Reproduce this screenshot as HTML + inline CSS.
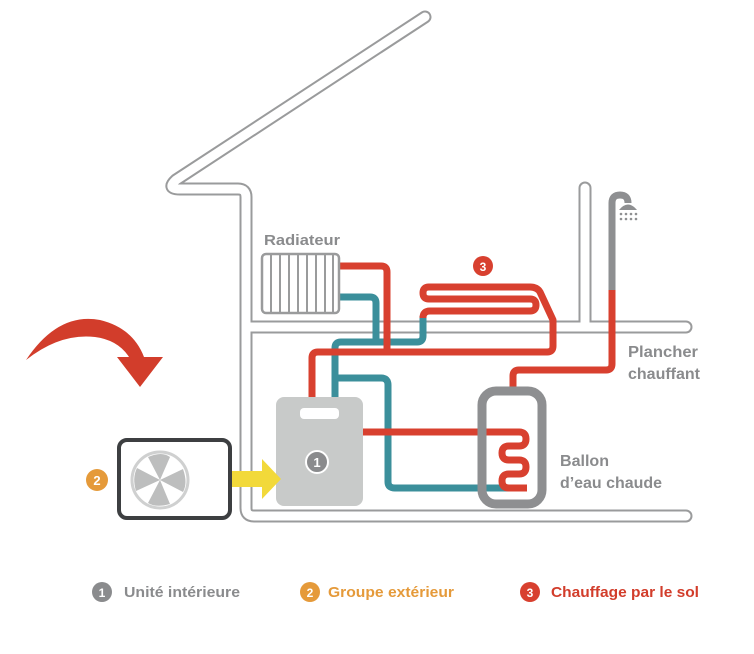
<!DOCTYPE html>
<html><head><meta charset="utf-8"><style>
html,body{margin:0;padding:0;background:#fff;}
svg{display:block;}
text{font-family:"Liberation Sans",sans-serif;font-weight:700;}
</style></head><body>
<svg width="754" height="654" viewBox="0 0 754 654" xmlns="http://www.w3.org/2000/svg">
<rect width="754" height="654" fill="#fff"/>
<g fill="none" stroke-linecap="round" stroke-linejoin="round">
<g stroke="#9a9b9c" stroke-width="13">
<path d="M425,17 L176,180 Q166,189 180,189 L238,189 Q246,189 246,197 L246,508 Q246,516 254,516 L686,516"/>
<path d="M246,327 L686,327"/>
<path d="M585,188 L585,327"/>
</g>
<g stroke="#fff" stroke-width="9">
<path d="M425,17 L176,180 Q166,189 180,189 L238,189 Q246,189 246,197 L246,508 Q246,516 254,516 L686,516"/>
<path d="M246,327 L686,327"/>
<path d="M585,188 L585,327"/>
</g>
</g>
<path d="M612,290 L612,203 Q612,195 620,195 Q628,195 628,203" fill="none" stroke="#8e8f91" stroke-width="7"/>
<path d="M619,210 Q628,199 637,210 Z" fill="#8e8f91"/>
<g fill="#8e8f91"><circle cx="621" cy="214" r="1.3"/><circle cx="626" cy="214" r="1.3"/><circle cx="631" cy="214" r="1.3"/><circle cx="636" cy="214" r="1.3"/><circle cx="621" cy="219" r="1.3"/><circle cx="626" cy="219" r="1.3"/><circle cx="631" cy="219" r="1.3"/><circle cx="636" cy="219" r="1.3"/></g>
<g fill="none" stroke-width="7" stroke-linejoin="round">
<path d="M340,297 L370,297 Q376,297 376,303 L376,342" stroke="#3b8f9b"/>
<path d="M335,397 L335,348 Q335,342 341,342 L417,342 Q423,342 423,336 L423,316" stroke="#3b8f9b"/>
<path d="M335,378 L381,378 Q388,378 388,385 L388,482 Q388,488 395,488 L512,488" stroke="#3b8f9b"/>
<path d="M340,266 L381,266 Q387,266 387,272 L387,352" stroke="#d8402f"/>
<path d="M312,397 L312,358 Q312,352 318,352 L547,352 Q553,352 553,346 L553,320 L540,292 Q537,287 530,287 L429,287 Q423,287 423,293 Q423,299 429,299 L530,299 Q536,299 536,305 Q536,311 530,311 L430,311 Q423,311 423,318" stroke="#d8402f"/>
<path d="M363,432 L519,432 Q526,432 526,439 Q526,446 519,446 L509,446 Q502,446 502,453 Q502,460 509,460 L519,460 Q526,460 526,467 Q526,474 519,474 L509,474 Q502,474 502,481 Q502,488 509,488 L527,488" stroke="#d8402f"/>
<path d="M513,387 L513,376 Q513,370 519,370 L606,370 Q612,370 612,364 L612,290" stroke="#d8402f"/>
</g>
<rect x="482" y="391" width="60" height="113" rx="14" fill="none" stroke="#8e8f91" stroke-width="9"/>
<rect x="262" y="254" width="77" height="59" rx="4" fill="#fff" stroke="#9a9b9c" stroke-width="2.5"/>
<g stroke="#9a9b9c" stroke-width="2"><path d="M271,255V312M280,255V312M289,255V312M298,255V312M307,255V312M316,255V312M325,255V312M333,255V312"/></g>
<text x="264" y="245" font-size="15" fill="#8a8b8d" textLength="76" lengthAdjust="spacingAndGlyphs">Radiateur</text>
<rect x="276" y="397" width="87" height="109" rx="8" fill="#c8cac9"/>
<rect x="300" y="408" width="39" height="11" rx="4" fill="#fff"/>
<circle cx="317" cy="462" r="11" fill="#8a8b8d" stroke="#fff" stroke-width="2"/>
<text x="317" y="467" font-size="13" fill="#fff" text-anchor="middle">1</text>
<path d="M213,471 L262,471 L262,459 L281,479 L262,499 L262,487 L213,487 Z" fill="#f2d93a"/>
<rect x="119" y="440" width="111" height="78" rx="8" fill="#fff" stroke="#3d3f41" stroke-width="4"/>
<circle cx="160" cy="480" r="28" fill="none" stroke="#cfd0d0" stroke-width="3"/>
<g fill="#bdbebe">
<path d="M160,480 L148,457 Q162,451 170,457 Z"/>
<path d="M160,480 L183,469 Q188,483 183,492 Z"/>
<path d="M160,480 L170,504 Q156,508 148,503 Z"/>
<path d="M160,480 L136,491 Q132,478 137,468 Z"/>
</g>
<circle cx="97" cy="480" r="11" fill="#e59a3a"/>
<text x="97" y="485" font-size="13" fill="#fff" text-anchor="middle">2</text>
<path d="M26,360 Q58,312 100,320 Q133,328 144,357 L163,357 L140,387 L117,357 L129,357 Q118,340 95,337 Q60,333 26,360 Z" fill="#d23d2b"/>
<circle cx="483" cy="266" r="10" fill="#d8402f"/>
<text x="483" y="271" font-size="12" fill="#fff" text-anchor="middle">3</text>
<text x="628" y="357" font-size="16" fill="#8a8b8d" textLength="70" lengthAdjust="spacingAndGlyphs">Plancher</text>
<text x="628" y="379" font-size="16" fill="#8a8b8d" textLength="72" lengthAdjust="spacingAndGlyphs">chauffant</text>
<text x="560" y="466" font-size="16" fill="#8a8b8d" textLength="49" lengthAdjust="spacingAndGlyphs">Ballon</text>
<text x="560" y="488" font-size="16" fill="#8a8b8d" textLength="102" lengthAdjust="spacingAndGlyphs">d’eau chaude</text>
<circle cx="102" cy="592" r="10" fill="#8a8b8d"/>
<text x="102" y="597" font-size="12" fill="#fff" text-anchor="middle">1</text>
<text x="124" y="597" font-size="15" fill="#8a8b8d" textLength="116" lengthAdjust="spacingAndGlyphs">Unité intérieure</text>
<circle cx="310" cy="592" r="10" fill="#e59a3a"/>
<text x="310" y="597" font-size="12" fill="#fff" text-anchor="middle">2</text>
<text x="328" y="597" font-size="15" fill="#e59a3a" textLength="126" lengthAdjust="spacingAndGlyphs">Groupe extérieur</text>
<circle cx="530" cy="592" r="10" fill="#d8402f"/>
<text x="530" y="597" font-size="12" fill="#fff" text-anchor="middle">3</text>
<text x="551" y="597" font-size="15" fill="#d23d2b" textLength="148" lengthAdjust="spacingAndGlyphs">Chauffage par le sol</text>
</svg>
</body></html>
